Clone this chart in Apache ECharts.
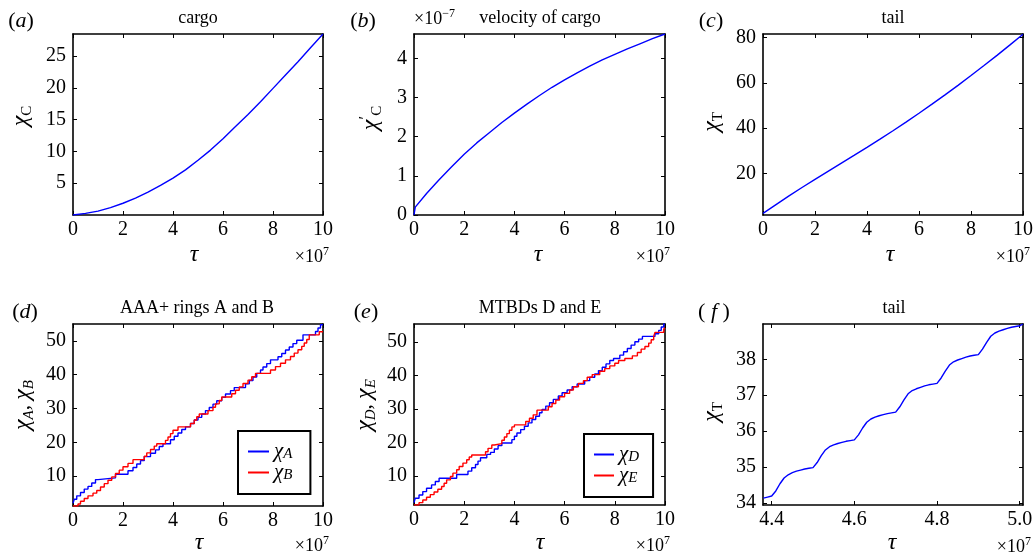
<!DOCTYPE html>
<html><head><meta charset="utf-8">
<script src="https://cdn.jsdelivr.net/npm/echarts@6/dist/echarts.min.js"></script>
<style>html,body{margin:0;padding:0;background:#fff}#c{width:1036px;height:557px}</style>
</head><body><div id="c"></div>
<script>
// ---------------- DATA ----------------
const tauHalf = [0,0.5,1,1.5,2,2.5,3,3.5,4,4.5,5,5.5,6,6.5,7,7.5,8,8.5,9,9.5,10];
const cargoPos = [0,0.25,0.6,1.15,1.85,2.65,3.6,4.65,5.8,7.1,8.6,10.2,12.0,13.9,15.8,17.8,19.9,22.0,24.1,26.3,28.45];
const tauVel = [0,0.05,0.5,1,1.5,2,2.5,3,3.5,4,4.5,5,5.5,6,6.5,7,7.5,8,8.5,9,9.5,10];
const cargoVel = [0,0.2,0.55,0.9,1.23,1.55,1.84,2.1,2.36,2.6,2.83,3.05,3.26,3.45,3.63,3.8,3.96,4.1,4.24,4.37,4.5,4.62];
const tailPos = [2.5,6.4,10.2,13.9,17.5,21.05,24.55,28.05,31.6,35.2,38.9,42.7,46.6,50.6,54.7,58.9,63.2,67.6,72.1,76.7,81.4];

const ringTauA = [0,0.05,0.15,0.3,0.45,0.6,0.75,0.9,1.0,1.7,2.2,2.4,2.55,2.7,2.85,3.1,3.3,3.45,3.6,3.9,4.05,4.2,4.35,4.5,4.7,4.85,5.0,5.15,5.3,5.45,5.6,5.75,5.95,6.1,6.3,6.45,6.9,7.05,7.2,7.35,7.5,7.6,7.75,7.9,8.2,8.35,8.5,8.65,8.8,8.95,9.2,9.7,9.8,9.9,10];
const ringA = [2.0,3.2,4.2,5.2,6.2,7.0,8.0,9.0,9.5,10.6,11.6,12.6,13.6,14.6,15.8,16.8,17.8,18.8,19.6,20.8,21.8,22.8,23.8,24.6,25.6,26.6,27.4,28.4,29.4,30.3,31.3,32.3,33.3,34.3,35.3,36.2,37.3,38.3,39.3,40.4,41.4,42.3,43.3,44.4,45.3,46.3,47.3,48.2,49.2,50.2,51.8,52.8,53.8,54.8,55.0];
const ringTauB = [0,0.2,0.3,0.45,0.6,0.8,0.95,1.1,1.25,1.4,1.55,1.7,1.85,2.0,2.2,2.4,2.85,2.95,3.1,3.25,3.35,3.7,3.8,3.9,4.0,4.2,4.7,4.85,4.95,5.05,5.4,5.6,5.7,5.85,5.95,6.35,6.5,6.65,6.8,7.0,7.15,7.3,7.9,8.1,8.3,8.5,8.7,8.85,9.0,9.15,9.25,9.35,9.45,9.85,10];
const ringB = [1.2,1.8,2.6,3.4,4.2,5.0,5.8,6.8,7.8,8.8,9.8,10.8,11.8,12.8,13.8,14.9,15.9,16.9,17.9,18.9,19.6,20.6,21.6,22.6,23.6,24.6,25.6,26.6,27.6,28.4,29.4,30.4,31.4,32.4,33.4,34.4,35.4,36.4,37.4,38.4,39.4,40.4,41.4,42.4,43.4,44.4,45.4,46.4,47.4,48.4,49.4,50.4,51.8,52.7,52.7];

const mtbdTauD = [0,0.05,0.2,0.35,0.5,0.7,0.85,1.0,1.7,2.15,2.3,2.45,2.55,2.65,2.9,3.05,3.2,3.35,3.5,3.9,4.0,4.1,4.25,4.4,4.55,4.7,4.85,5.0,5.1,5.25,5.4,5.55,5.75,5.9,6.1,6.3,6.5,6.8,7.0,7.2,7.35,7.5,7.65,7.8,7.95,8.2,8.35,8.5,8.65,8.8,8.95,9.1,9.6,9.75,9.85,9.95,10];
const mtbdD = [2.0,3.3,4.3,5.3,6.3,7.3,8.3,9.3,10.4,11.4,12.4,13.4,14.4,15.4,16.4,17.0,18.0,19.0,19.8,20.8,21.8,22.8,23.8,24.8,25.8,26.8,27.8,28.8,29.8,30.8,31.8,32.8,33.8,34.8,35.6,36.6,37.4,38.4,39.4,40.4,41.4,42.4,43.4,44.4,45.0,46.0,47.0,48.0,49.0,50.0,50.8,51.6,52.4,53.4,54.4,55.3,55.3];
const mtbdTauE = [0,0.2,0.35,0.5,0.65,0.8,0.95,1.1,1.2,1.3,1.45,1.55,1.7,1.8,1.95,2.1,2.2,2.3,2.85,2.95,3.1,3.2,3.5,3.6,3.7,3.8,3.9,4.0,4.45,4.6,4.75,4.9,5.35,5.5,5.65,5.8,6.0,6.2,6.35,6.55,6.75,6.9,7.1,7.4,7.6,7.8,8.0,8.15,8.4,8.7,8.9,9.05,9.2,9.35,9.45,9.55,9.6,9.95,10];
const mtbdE = [1.3,2.0,2.8,3.6,4.4,5.2,6.0,6.8,7.8,8.8,9.8,10.8,11.8,12.8,13.8,14.8,15.6,16.2,17.2,18.2,19.2,19.6,20.6,21.6,22.6,23.6,24.6,25.2,26.2,27.2,28.2,29.6,30.6,31.6,32.6,33.6,34.6,35.6,36.6,37.6,38.4,39.4,40.2,41.2,42.0,42.8,43.6,44.4,45.0,45.8,46.8,47.8,48.6,49.6,50.6,51.6,52.8,53.8,54.2];

const zoomTau = [4.38,4.39,4.40,4.41,4.42,4.43,4.44,4.45,4.46,4.47,4.48,4.49,4.50,4.51,4.52,4.53,4.54,4.55,4.56,4.57,4.58,4.59,4.60,4.61,4.62,4.63,4.64,4.65,4.66,4.67,4.68,4.69,4.70,4.71,4.72,4.73,4.74,4.75,4.76,4.77,4.78,4.79,4.80,4.81,4.82,4.83,4.84,4.85,4.86,4.87,4.88,4.89,4.90,4.91,4.92,4.93,4.94,4.95,4.96,4.97,4.98,4.99,5.00,5.008];
const zoomTail = [34.14,34.17,34.20,34.34,34.54,34.70,34.79,34.85,34.89,34.92,34.95,34.97,34.99,35.13,35.32,35.48,35.57,35.62,35.66,35.69,35.72,35.74,35.76,35.90,36.09,36.25,36.34,36.39,36.43,36.46,36.49,36.51,36.53,36.68,36.87,37.04,37.13,37.18,37.22,37.26,37.29,37.31,37.33,37.48,37.67,37.84,37.93,37.98,38.02,38.06,38.09,38.11,38.13,38.28,38.47,38.64,38.73,38.78,38.82,38.86,38.89,38.91,38.93,38.98];

// axis ranges and tick labels
const xRange = [0, 10];
const xTicks = [0, 2, 4, 6, 8, 10];
const yRangeA = [0, 28.45], yTicksA = [5, 10, 15, 20, 25];
const yRangeB = [0, 4.62], yTicksB = [0, 1, 2, 3, 4];
const yRangeC = [1.8, 81.5], yTicksC = [20, 40, 60, 80];
const yRangeD = [1.2, 55.0], yTicksD = [10, 20, 30, 40, 50];
const yRangeE = [1.3, 55.3], yTicksE = [10, 20, 30, 40, 50];
const xRangeF = [4.379, 5.008], xTicksF = [4.4, 4.6, 4.8, 5.0];
const yRangeF = [33.95, 38.98], yTicksF = [34, 35, 36, 37, 38];
const titles = ['cargo', 'velocity of cargo', 'tail', 'AAA+ rings A and B', 'MTBDs D and E', 'tail'];

// ---------------- CHART ----------------
const FAM = 'Liberation Serif';
const zip = (a, b) => a.map((v, i) => [v, b[i]]);
const chart = echarts.init(document.getElementById('c'), null, {renderer: 'canvas'});

const grids = [
  {left: 73, top: 34, width: 250, height: 181},
  {left: 414, top: 34, width: 251, height: 181},
  {left: 763, top: 34, width: 260, height: 181},
  {left: 73, top: 324, width: 250, height: 182},
  {left: 414, top: 324, width: 251, height: 181},
  {left: 763, top: 324, width: 260, height: 181}
];

function axis(g, pos, rng, ticks, fmt) {
  const main = (pos === 'bottom' || pos === 'left');
  return {
    type: 'value', gridIndex: g, position: pos, min: rng[0], max: rng[1],
    axisLine: {show: true, onZero: false, lineStyle: {color: '#000', width: 1.6}},
    axisTick: {show: true, inside: true, length: 4, customValues: ticks, lineStyle: {color: '#000', width: 1}},
    axisLabel: {show: main, customValues: ticks, margin: (pos === 'bottom') ? 5 : 7, color: '#000',
      fontFamily: FAM, fontSize: 20, formatter: fmt || (v => String(v))},
    splitLine: {show: false}
  };
}
const panels = [
  [xRange, xTicks, yRangeA, yTicksA, null],
  [xRange, xTicks, yRangeB, yTicksB, null],
  [xRange, xTicks, yRangeC, yTicksC, null],
  [xRange, xTicks, yRangeD, yTicksD, null],
  [xRange, xTicks, yRangeE, yTicksE, null],
  [xRangeF, xTicksF, yRangeF, yTicksF, v => v.toFixed(1)]
];
const xAxes = [], yAxes = [];
panels.forEach((p, i) => {
  xAxes.push(axis(i, 'bottom', p[0], p[1], p[4]));
  xAxes.push(axis(i, 'top', p[0], p[1], p[4]));
  yAxes.push(axis(i, 'left', p[2], p[3]));
  yAxes.push(axis(i, 'right', p[2], p[3]));
});

const BLUE = '#0000ff', RED = '#ff0000';
function line(name, g, data, color, step) {
  return {name, type: 'line', xAxisIndex: 2 * g, yAxisIndex: 2 * g, data, symbol: 'none', showSymbol: false,
    step: step || false, smooth: false, clip: true, animation: false,
    lineStyle: {color, width: 1.4}, itemStyle: {color}};
}
const series = [
  line('cargo', 0, zip(tauHalf, cargoPos), BLUE),
  line('velocity', 1, zip(tauVel, cargoVel), BLUE),
  line('tail', 2, zip(tauHalf, tailPos), BLUE),
  line('χA', 3, zip(ringTauA, ringA), BLUE, 'end'),
  line('χB', 3, zip(ringTauB, ringB), RED, 'end'),
  line('χD', 4, zip(mtbdTauD, mtbdD), BLUE, 'end'),
  line('χE', 4, zip(mtbdTauE, mtbdE), RED, 'end'),
  line('tailZoom', 5, zip(zoomTau, zoomTail), BLUE)
];

// rich text styles (zrender uses fill, echarts components use color)
const R = {
  g: {fontFamily: FAM, fontSize: 24, fontStyle: 'italic', lineHeight: 28, fill: '#000', color: '#000'},
  n: {fontFamily: FAM, fontSize: 21, lineHeight: 28, fill: '#000', color: '#000'},
  s: {fontFamily: FAM, fontSize: 15, lineHeight: 15, verticalAlign: 'bottom', fill: '#000', color: '#000'},
  si: {fontFamily: FAM, fontSize: 15, fontStyle: 'italic', lineHeight: 15, verticalAlign: 'bottom', fill: '#000', color: '#000'},
  pr: {fontFamily: FAM, fontSize: 17, lineHeight: 17, verticalAlign: 'top', fill: '#000', color: '#000'},
  t: {fontFamily: FAM, fontSize: 18, lineHeight: 22, fill: '#000', color: '#000'},
  u: {fontFamily: FAM, fontSize: 12, lineHeight: 12, verticalAlign: 'top', fill: '#000', color: '#000'},
  p: {fontFamily: FAM, fontSize: 22, lineHeight: 24, fill: '#000', color: '#000'},
  pi: {fontFamily: FAM, fontSize: 22, fontStyle: 'italic', lineHeight: 24, fill: '#000', color: '#000'}
};
function T(x, y, text, opt) {
  opt = opt || {};
  return {type: 'text', x, y, rotation: opt.rot || 0, silent: true, z: 100,
    style: {text, fill: '#000', fontFamily: FAM, fontSize: opt.size || 18,
      align: opt.align || 'center', textAlign: opt.align || 'center',
      verticalAlign: 'middle', textVerticalAlign: 'middle', rich: R}};
}
const graphics = [
  // panel labels
  T(21, 21, '{p|(}{pi|a}{p|)}'), T(363, 21, '{p|(}{pi|b}{p|)}'), T(711, 21, '{p|(}{pi|c}{p|)}'),
  T(25, 312, '{p|(}{pi|d}{p|)}'), T(366, 312, '{p|(}{pi|e}{p|)}'), T(714, 312, '{p|(}{pi| f }{p|)}'),
  // titles
  T(198, 18, titles[0]), T(540, 18, titles[1]), T(893, 18, titles[2]),
  T(197, 308, titles[3]), T(540, 308, titles[4]), T(894, 308, titles[5]),
  // x names
  T(194, 255, '{g|τ}'), T(538, 255, '{g|τ}'), T(890, 255, '{g|τ}'),
  T(199, 543, '{g|τ}'), T(540, 543, '{g|τ}'), T(892, 543, '{g|τ}'),
  // multipliers
  T(329, 257, '{t|×10}{u|7}', {align: 'right'}), T(670, 257, '{t|×10}{u|7}', {align: 'right'}),
  T(1030, 257, '{t|×10}{u|7}', {align: 'right'}),
  T(329, 546, '{t|×10}{u|7}', {align: 'right'}), T(670, 546, '{t|×10}{u|7}', {align: 'right'}),
  T(1031, 547, '{t|×10}{u|7}', {align: 'right'}),
  T(414, 19, '{t|×10}{u|−7}', {align: 'left'}),
  // y names (rotated)
  T(21, 116, '{g|χ}{s|C}', {rot: Math.PI / 2}),
  T(371, 118, '{g|χ}{pr|′}{s|C}', {rot: Math.PI / 2}),
  T(712, 122, '{g|χ}{s|T}', {rot: Math.PI / 2}),
  T(23, 405, '{g|χ}{si|A}{n|, }{g|χ}{si|B}', {rot: Math.PI / 2}),
  T(365, 405, '{g|χ}{si|D}{n|, }{g|χ}{si|E}', {rot: Math.PI / 2}),
  T(712, 412, '{g|χ}{s|T}', {rot: Math.PI / 2})
];

const legRich = {
  g: {fontFamily: FAM, fontSize: 21, fontStyle: 'italic', lineHeight: 20, color: '#000'},
  si: {fontFamily: FAM, fontSize: 15, fontStyle: 'italic', lineHeight: 12, verticalAlign: 'bottom', color: '#000'}
};
const legFmt = name => '{g|χ}{si|' + name.slice(1) + '}';
function legend(names, left, top, padding, w) {
  return {data: names.map(n => ({name: n, icon: 'rect'})), left, top, orient: 'vertical',
    itemWidth: w, itemHeight: 2, itemGap: 0,
    padding, backgroundColor: '#fff', borderColor: '#000', borderWidth: 2, borderRadius: 0,
    selectedMode: false, formatter: legFmt, textStyle: {rich: legRich, color: '#000'}, z: 20};
}

chart.setOption({
  animation: false,
  backgroundColor: '#fff',
  grid: grids,
  xAxis: xAxes,
  yAxis: yAxes,
  legend: [
    legend(['χA', 'χB'], 238, 431, [10, 18, 11, 10], 21),
    legend(['χD', 'χE'], 584, 434, [10, 14, 11, 10], 20)
  ],
  series,
  graphic: graphics
});
</script>
</body></html>
